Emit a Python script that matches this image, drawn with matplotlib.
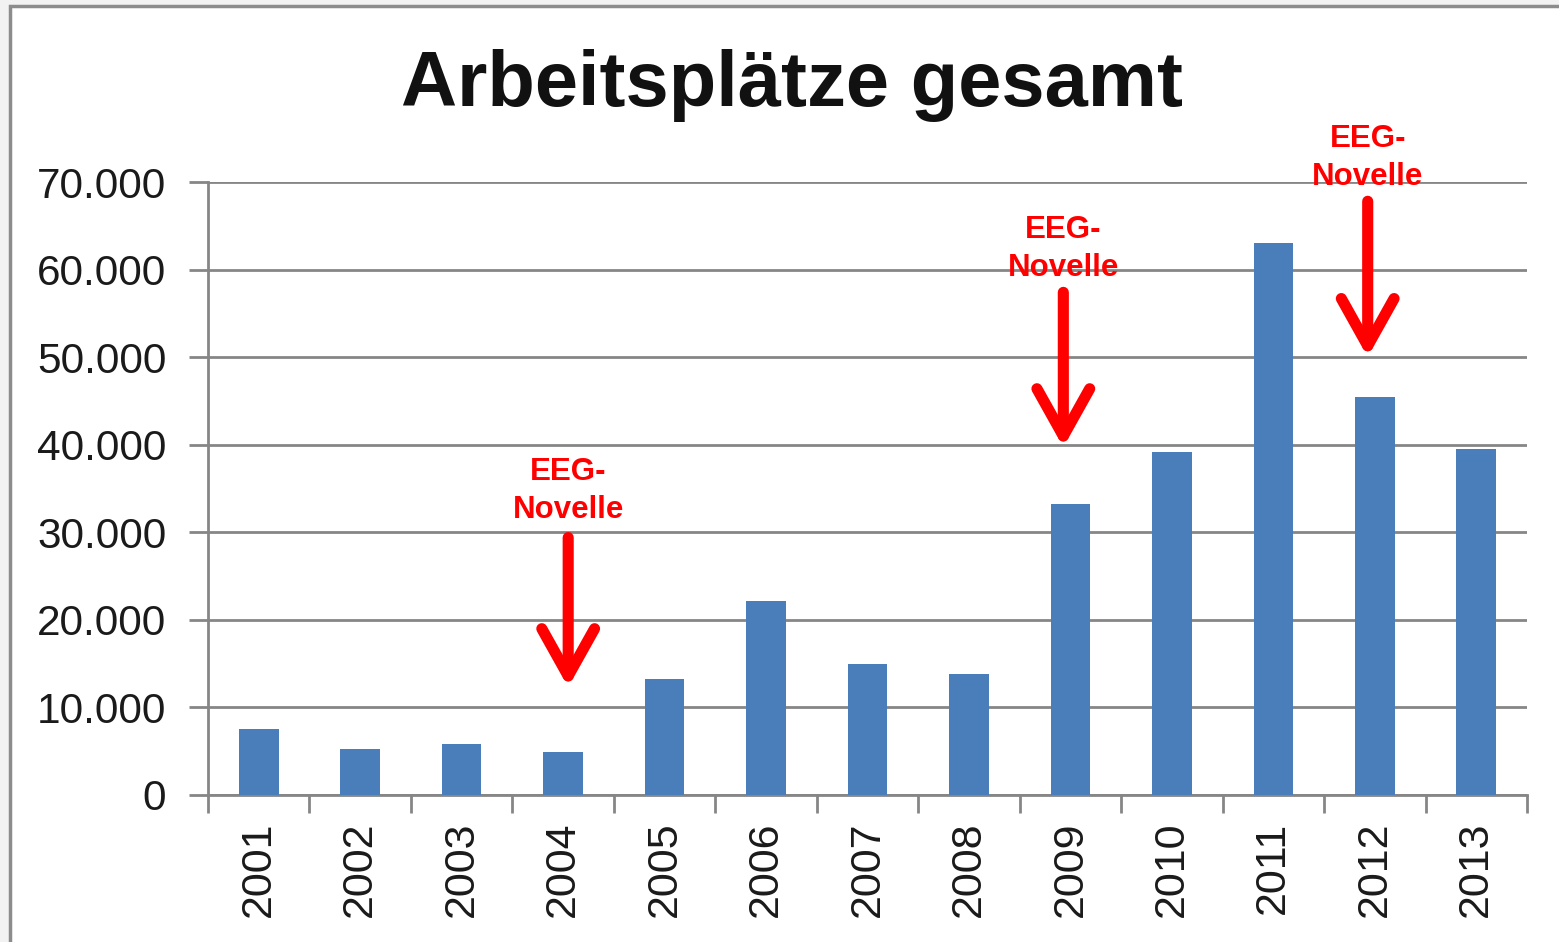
import numpy as np
import matplotlib.pyplot as plt
from matplotlib.patches import Rectangle
from matplotlib.ticker import FuncFormatter

plt.rcParams['font.family'] = ['Liberation Sans', 'DejaVu Sans']

# data
years = ['2001', '2002', '2003', '2004', '2005', '2006', '2007',
         '2008', '2009', '2010', '2011', '2012', '2013']
jobs = [7500, 5300, 5800, 4900, 13200, 22100, 15000,
        13800, 33200, 39200, 63000, 45400, 39500]

# annotations: year index, arrow tip, arrow start, text centre
novelle_idx = [3, 8, 11]
novelle_tip = [12300, 39700, 50000]
novelle_start = [29400, 57400, 67800]
novelle_text = [34700, 62300, 72700]

fig = plt.figure(figsize=(15.59, 9.42), dpi=100)
fig.patch.set_facecolor('#f2f2f2')
# white chart area with grey frame
fig.patches.append(Rectangle((10 / 1559, -0.05), 1.2, 1 - 6 / 942 + 0.05,
                             transform=fig.transFigure, facecolor='white',
                             edgecolor='#8c8c8c', lw=2.5, zorder=-5))

ax = fig.add_axes([208 / 1559, 1 - 795 / 942, (1527 - 208) / 1559, (795 - 182) / 942])
ax.set_zorder(2)
ax.set_facecolor('white')

x = np.arange(len(years))
ax.bar(x, jobs, width=0.39, color='#4a7ebb', zorder=3)

ax.set_xlim(-0.5, len(years) - 0.5)
ax.set_ylim(0, 70000)
ax.set_yticks(np.arange(0, 70001, 10000))
ax.yaxis.set_major_formatter(FuncFormatter(lambda v, p: f'{int(v):,}'.replace(',', '.')))
ax.grid(axis='y', color='#868686', lw=2, zorder=1)

ax.set_xticks(x)
ax.set_xticklabels(years, rotation=90, va='top')
ax.set_xticks(np.arange(-0.5, len(years), 1), minor=True)
ax.tick_params(axis='x', which='major', length=0, pad=19, labelsize=31, labelcolor='#1a1a1a')
ax.tick_params(axis='x', which='minor', length=13, width=2, color='#868686', direction='out')
ax.tick_params(axis='y', length=14, width=2, color='#868686', pad=16, labelsize=30.5,
               labelcolor='#1a1a1a')

for side in ['top', 'right']:
    ax.spines[side].set_visible(False)
for side in ['left', 'bottom']:
    ax.spines[side].set_color('#868686')
    ax.spines[side].set_linewidth(2)

for i, tip, start, ty in zip(novelle_idx, novelle_tip, novelle_start, novelle_text):
    xi = x[i] + 0.05 if i == 3 else x[i] - 0.07
    ax.annotate('', xy=(xi, tip), xytext=(xi, start),
                arrowprops=dict(arrowstyle='->,head_length=1.7,head_width=0.95',
                                color='#ff0000', lw=8, capstyle='round',
                                joinstyle='round', shrinkA=0, shrinkB=0,
                                mutation_scale=20),
                zorder=5, annotation_clip=False)
    ax.text(xi, ty, 'EEG-\nNovelle', color='#ff0000', fontsize=22.5, fontweight='bold',
            ha='center', va='center', linespacing=1.35, zorder=5, clip_on=False)

fig.text(792 / 1559, 1 - 85 / 942, 'Arbeitsplätze gesamt', fontsize=56,
         fontweight='bold', ha='center', va='center', color='#111111')

fig.savefig('out.png', dpi=100, facecolor=fig.get_facecolor())
